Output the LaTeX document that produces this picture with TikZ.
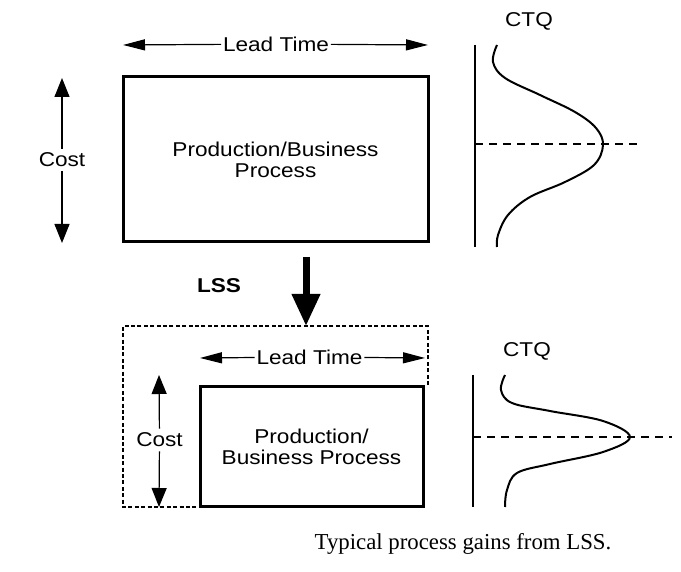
\documentclass[tikz,border=0pt]{standalone}
\usepackage{fontspec}
\setmainfont{Liberation Sans}[FakeStretch=1.13]
\newfontfamily\capfont{Liberation Serif}
\usetikzlibrary{arrows.meta}

\begin{document}
\begin{tikzpicture}[x=0.5pt,y=-0.5pt,>={Triangle[length=11pt,width=5.5pt]},
	font=\fontsize{10}{10.5}\selectfont,
	proc/.style={draw,line width=1.5pt,align=center,inner sep=0pt},
	lbl/.style={inner sep=2pt},
	hlbl/.style={inner xsep=0.8pt,inner ysep=2pt},
	dim/.style={->,line width=0.6pt},
	vdim/.style={-{Triangle[length=9.5pt,width=7.5pt]},line width=0.6pt},
	axis/.style={line width=1.2pt},
	bell/.style={line width=1pt},
	level/.style={line width=0.9pt,dash pattern=on 4pt off 3pt},
	old/.style={line width=0.55pt,dash pattern=on 2pt off 1.2pt}]
	\useasboundingbox (0,0) rectangle (681,572);

	% before LSS
	\node[proc,minimum width=152.5pt,minimum height=82.5pt] (proc1) at (275.5,159.5) {Production/Business\\Process};
	\node[hlbl] (lt1) at (276,44) {Lead Time};
	\node[lbl] (cost1) at (62,160) {Cost};
	\node[lbl] (ctq1) at (529,21) {CTQ};
	\coordinate (lt1w) at (123,45);
	\coordinate (lt1e) at (428,45);
	\coordinate (cost1n) at (62,78);
	\coordinate (cost1s) at (62,243);
	\coordinate (ax1t) at (475,45);
	\coordinate (ax1b) at (475,247);
	\coordinate (mu1) at (475,144);
	\coordinate (mu1e) at (640,144);

	\draw[dim] (lt1) -- (lt1w);
	\draw[dim] (lt1) -- (lt1e);
	\draw[vdim] (cost1) -- (cost1n);
	\draw[vdim] (cost1) -- (cost1s);
	\draw[axis] (ax1t) -- (ax1b);
	\draw[level] (mu1) -- (mu1e);
	\draw[bell] plot[smooth,tension=0.6] coordinates {(497,45) (493,62) (505,78) (540,95) (575,112) (596,128) (603,145) (594,165) (565,182) (530,197) (508,215) (498,235) (497,247)};

	% LSS step
	\node[lbl] (lss) at (219,286) {\textbf{LSS}};
	\coordinate (lsstop) at (306,257);
	\coordinate (oldtop) at (306,326);
	\draw[line width=3.5pt,-{Triangle[length=16pt,width=13.5pt]}] (lsstop) -- (oldtop);
	\draw[old] (428,385) -- (428,326) -- (123,326) -- (123,507) -- (200,507);

	% after LSS
	\node[proc,minimum width=111.5pt,minimum height=60pt] (proc2) at (311.5,447) {Production/\\Business Process};
	\node[hlbl] (lt2) at (309.5,357) {Lead Time};
	\node[lbl] (cost2) at (159.5,440) {Cost};
	\node[lbl] (ctq2) at (527,351) {CTQ};
	\coordinate (lt2w) at (200,358);
	\coordinate (lt2e) at (425,358);
	\coordinate (cost2n) at (159,375);
	\coordinate (cost2s) at (159,507);
	\coordinate (ax2t) at (473,375);
	\coordinate (ax2b) at (473,507);
	\coordinate (mu2) at (473,437);
	\coordinate (mu2e) at (672,437);

	\draw[dim] (lt2) -- (lt2w);
	\draw[dim] (lt2) -- (lt2e);
	\draw[vdim] (cost2) -- (cost2n);
	\draw[vdim] (cost2) -- (cost2s);
	\draw[axis] (ax2t) -- (ax2b);
	\draw[level] (mu2) -- (mu2e);
	\draw[bell] plot[smooth,tension=0.6] coordinates {(505,375) (501,390) (512,403) (550,411) (603,421) (630,437) (603,452) (550,464) (517,473) (507,490) (505,507)};

	\node[font=\capfont\fontsize{11.4}{13}\selectfont] (cap) at (463,544) {Typical process gains from LSS.};
\end{tikzpicture}
\end{document}
